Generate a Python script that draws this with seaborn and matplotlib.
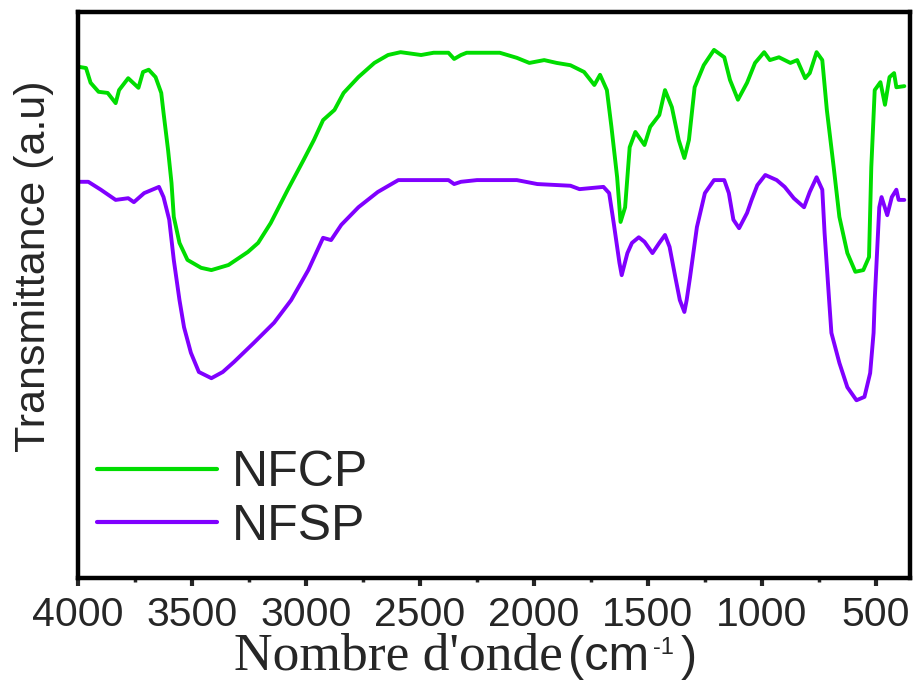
import pandas as pd
import matplotlib.pyplot as plt
import seaborn as sns
from matplotlib.ticker import MultipleLocator

# FTIR spectra (transmittance in arbitrary units, 0-100)
wavenumber_nfcp = [3995, 3965, 3945, 3910, 3870, 3835, 3820, 3780, 3735, 3715,
                   3690, 3660, 3635, 3625, 3605, 3590, 3580, 3555, 3520, 3460,
                   3415, 3340, 3255, 3210, 3155, 3080, 3010, 2965, 2925, 2875,
                   2835, 2770, 2700, 2640, 2585, 2495, 2440, 2375, 2350, 2320,
                   2295, 2150, 2075, 2020, 1955, 1900, 1840, 1780, 1735, 1710,
                   1680, 1660, 1635, 1620, 1600, 1580, 1555, 1515, 1490, 1450,
                   1425, 1395, 1365, 1340, 1320, 1295, 1255, 1210, 1165, 1140,
                   1105, 1065, 1030, 990, 965, 925, 875, 845, 810, 790,
                   760, 735, 715, 685, 660, 625, 590, 555, 530, 520,
                   505, 480, 460, 440, 420, 410, 375]
transmittance_nfcp = [90.3, 90.1, 87.5, 85.9, 85.7, 83.9, 86.2, 88.3, 86.6, 89.4,
                      89.8, 88.5, 85.7, 82.2, 75.6, 69.8, 63.8, 59.2, 56.2, 54.8,
                      54.4, 55.3, 57.6, 59.2, 62.7, 68.6, 73.9, 77.4, 80.9, 82.7,
                      85.7, 88.5, 91.0, 92.4, 92.9, 92.4, 92.8, 92.8, 91.7, 92.4,
                      92.8, 92.8, 91.9, 91.0, 91.5, 91.0, 90.6, 89.4, 87.1, 88.9,
                      86.2, 79.7, 70.8, 62.9, 65.5, 76.1, 78.8, 76.5, 79.7, 81.8,
                      86.2, 83.2, 77.4, 74.2, 77.4, 86.7, 90.6, 93.3, 92.0, 88.0,
                      84.5, 87.5, 91.0, 92.9, 91.5, 92.0, 91.0, 91.5, 88.3, 89.2,
                      92.9, 91.5, 82.7, 72.6, 63.8, 57.4, 54.1, 54.4, 56.7, 72.6,
                      86.2, 87.6, 83.6, 88.5, 89.2, 86.7, 86.9]

wavenumber_nfsp = [3995, 3955, 3900, 3835, 3780, 3755, 3710, 3645, 3625, 3600,
                   3580, 3555, 3535, 3505, 3470, 3415, 3365, 3315, 3230, 3140,
                   3065, 2990, 2925, 2890, 2845, 2770, 2685, 2595, 2375, 2350,
                   2320, 2250, 2075, 1985, 1840, 1800, 1695, 1670, 1650, 1625,
                   1615, 1590, 1570, 1540, 1515, 1480, 1450, 1425, 1405, 1380,
                   1360, 1340, 1330, 1315, 1285, 1250, 1210, 1165, 1145, 1125,
                   1100, 1065, 1045, 1020, 985, 935, 900, 860, 815, 790,
                   760, 735, 725, 705, 695, 660, 625, 585, 550, 525,
                   510, 505, 485, 475, 450, 430, 410, 400, 375]
transmittance_nfsp = [70.0, 70.0, 68.6, 66.8, 67.1, 66.4, 68.0, 69.1, 67.3, 63.3,
                      56.2, 49.1, 44.3, 39.8, 36.4, 35.3, 36.4, 38.2, 41.5, 45.1,
                      49.1, 54.4, 60.1, 59.7, 62.4, 65.5, 68.2, 70.3, 70.3, 69.6,
                      70.0, 70.3, 70.3, 69.6, 69.3, 68.7, 69.1, 68.0, 62.7, 55.7,
                      53.5, 57.4, 59.2, 60.2, 59.4, 57.4, 59.2, 60.6, 58.5, 53.2,
                      49.1, 47.0, 49.1, 53.2, 62.0, 68.0, 70.3, 70.3, 68.0, 63.3,
                      61.8, 64.5, 66.8, 69.4, 71.2, 70.3, 69.1, 67.1, 65.5, 68.2,
                      70.8, 68.6, 61.0, 49.1, 43.3, 38.0, 33.7, 31.4, 32.0, 36.2,
                      43.3, 49.1, 65.5, 67.3, 64.1, 67.3, 68.6, 66.8, 66.8]

series_names = ['NFCP', 'NFSP']
series_colors = ['#00dd00', '#8000ff']
x_ticks = [4000, 3500, 3000, 2500, 2000, 1500, 1000, 500]

df = pd.concat([
    pd.DataFrame({'wn': wavenumber_nfcp, 't': transmittance_nfcp, 'sample': 'NFCP'}),
    pd.DataFrame({'wn': wavenumber_nfsp, 't': transmittance_nfsp, 'sample': 'NFSP'}),
], ignore_index=True)

sns.set_style('ticks')
plt.rcParams['font.family'] = ['Liberation Sans', 'DejaVu Sans']

fig = plt.figure(figsize=(9.16, 6.85), dpi=100)
ax = fig.add_axes([0.0852, 0.1562, 0.9083, 0.8263])

sns.lineplot(data=df, x='wn', y='t', hue='sample', hue_order=series_names,
             palette=dict(zip(series_names, series_colors)), linewidth=2.8,
             estimator=None, sort=False, ax=ax)

ax.set_xlim(4000, 350)
ax.set_ylim(0, 100)
ax.set_xticks(x_ticks)
ax.xaxis.set_minor_locator(MultipleLocator(250))
ax.set_yticks([])

for s in ax.spines.values():
    s.set_linewidth(3.2)
    s.set_color('black')
ax.tick_params(axis='x', which='major', direction='out', length=6, width=3,
               labelsize=29.5, pad=7, top=False)
ax.tick_params(axis='x', which='minor', direction='out', length=3, width=2.5, top=False)

# x label: serif words followed by a sans-serif unit with a small superscript
ax.set_xlabel("Nombre d'onde", fontsize=38.5, family='Liberation Serif')
ax.xaxis.label.set_va('baseline')
ax.xaxis.set_label_coords(0.385, -0.1625)
unit = ax.text(0.589, -0.1625, '(cm', transform=ax.transAxes, ha='left',
               va='baseline', fontsize=35)
sup = ax.annotate('-1', xy=(1, 0), xycoords=unit, xytext=(3, 15),
                  textcoords='offset points', ha='left', va='bottom', fontsize=17)
ax.annotate(')', xy=(1, 0), xycoords=(sup, unit), xytext=(5, 0),
            textcoords='offset points', ha='left', va='bottom', fontsize=35)

ax.set_ylabel('Transmittance (a.u)', fontsize=31)
ax.yaxis.set_label_coords(-0.029, 0.55)

handles, labels = ax.get_legend_handles_labels()
for h in handles:
    h.set_linewidth(3)
ax.legend(handles, labels, loc='center left', bbox_to_anchor=(0.023, 0.138),
          frameon=False, fontsize=36, handlelength=2.4, handletextpad=0.3,
          labelspacing=0.15, borderpad=0, borderaxespad=0)

fig.savefig('out.png', dpi=100)
